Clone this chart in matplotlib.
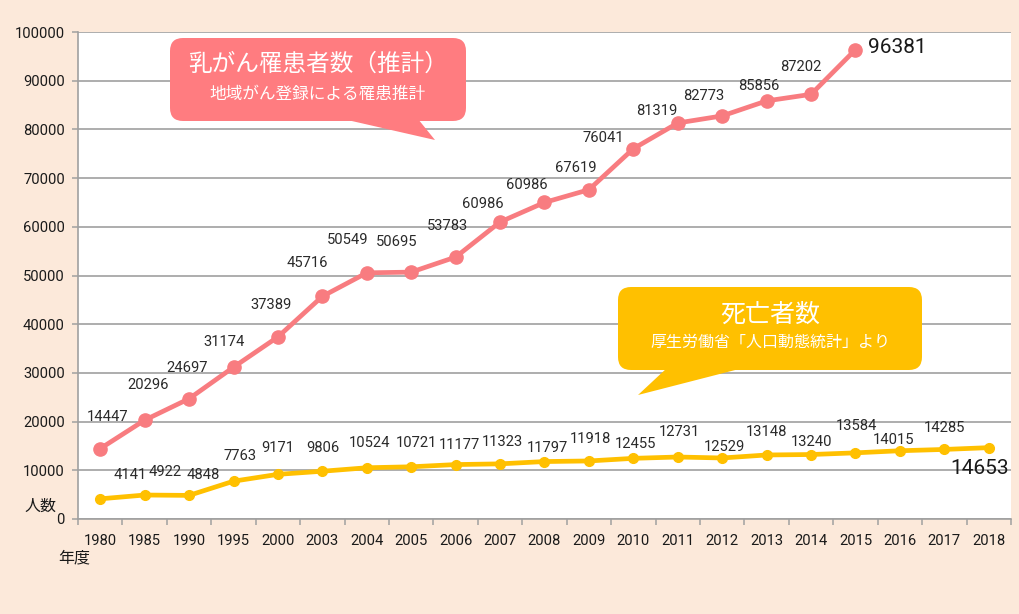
import matplotlib
matplotlib.use("Agg")
import matplotlib.pyplot as plt
from matplotlib.patches import FancyBboxPatch, Polygon
import numpy as np

# ---- data ----
years = ["1980", "1985", "1990", "1995", "2000", "2003", "2004", "2005", "2006", "2007",
         "2008", "2009", "2010", "2011", "2012", "2013", "2014", "2015", "2016", "2017", "2018"]
incidence = [14447, 20296, 24697, 31174, 37389, 45716, 50549, 50695, 53783, 60986,
             65000, 67619, 76041, 81319, 82773, 85856, 87202, 96381]
incidence_labels = ["14447", "20296", "24697", "31174", "37389", "45716", "50549", "50695",
                    "53783", "60986", "60986", "67619", "76041", "81319", "82773", "85856",
                    "87202", "96381"]
deaths = [4141, 4922, 4848, 7763, 9171, 9806, 10524, 10721, 11177, 11323, 11797, 11918,
          12455, 12731, 12529, 13148, 13240, 13584, 14015, 14285, 14653]
death_labels = [str(v) for v in deaths]

# label offsets in pixels (dx, dy; image-down positive)
inc_off = [(7, -32), (3, -35), (-2, -31), (-9, -25), (-7, -32), (-15, -33), (-19, -33),
           (-15, -30), (-8, -31), (-17, -18), (-18, -17), (-13, -22), (-30, -11),
           (-21, -12), (-18, -20), (-8, -15), (-10, -27), (42, -2)]
dth_off = [(30, -24), (20, -23), (14, -20), (7, -25), (0, -26), (1, -23), (3, -25), (5, -24),
           (4, -20), (2, -22), (3, -14), (2, -22), (2, -14), (2, -25), (2, -11), (0, -23),
           (0, -13), (1, -27), (-6, -11), (0, -21), (-9, 21)]

PINK = "#F87C80"
BOX_PINK = "#FF7C80"
YELLOW = "#FFC000"
BG = "#FCE9DA"
GRID = "#A0A0A0"
JP = "Noto Sans CJK JP"

plt.rcParams['font.family'] = ['Roboto', 'Noto Sans CJK JP', 'DejaVu Sans']

W, H = 1019, 614
fig = plt.figure(figsize=(W / 100, H / 100), dpi=100, facecolor=BG)
ax = fig.add_axes([78 / W, 1 - 519 / H, (1011 - 78) / W, (519 - 32) / H])
ax.set_facecolor("white")

x_all = np.arange(len(years))
x_inc = x_all[:len(incidence)]

ax.plot(x_inc, incidence, color=PINK, lw=3.4, marker="o", ms=9.5, zorder=4,
        solid_capstyle="round")
ax.plot(x_all, deaths, color=YELLOW, lw=3.4, marker="o", ms=7, zorder=4,
        solid_capstyle="round")

for i, (v, lab) in enumerate(zip(incidence, incidence_labels)):
    dx, dy = inc_off[i]
    big = (i == len(incidence) - 1)
    ax.annotate(lab, (x_inc[i], v), xytext=(dx, -dy), textcoords="offset pixels",
                ha="center", va="center", fontsize=15 if big else 10.6,
                color="#1a1a1a" if big else "#2a2a2a", zorder=5)

for i, (v, lab) in enumerate(zip(deaths, death_labels)):
    dx, dy = dth_off[i]
    big = (i == len(deaths) - 1)
    ax.annotate(lab, (x_all[i], v), xytext=(dx, -dy), textcoords="offset pixels",
                ha="center", va="center", fontsize=15 if big else 10.6,
                color="#1a1a1a" if big else "#2a2a2a", zorder=5)

ax.set_xlim(-0.5, len(years) - 0.5)
ax.set_ylim(0, 100000)
ax.set_yticks(np.arange(0, 100001, 10000))
ax.set_yticklabels([str(v) for v in range(0, 100001, 10000)])
ax.set_xticks(x_all)
ax.set_xticklabels(years)
ax.set_xticks(np.arange(-0.5, len(years), 1), minor=True)
ax.tick_params(axis="x", which="major", length=0, pad=11, labelsize=10.6, labelcolor="#1a1a1a")
ax.tick_params(axis="x", which="minor", length=4.5, width=1.1, color=GRID)
ax.tick_params(axis="y", which="major", length=4.5, width=1.1, color=GRID, pad=5,
               labelsize=10.6, labelcolor="#1a1a1a")
ax.grid(axis="y", color=GRID, lw=1.2, zorder=1)
ax.set_axisbelow(True)
for s in ["top", "right"]:
    ax.spines[s].set_visible(False)
for s in ["left", "bottom"]:
    ax.spines[s].set_color(GRID)
    ax.spines[s].set_linewidth(1.2)

# overlay in pixel coordinates for callouts and axis captions
ov = fig.add_axes([0, 0, 1, 1], facecolor="none")
ov.set_xlim(0, W)
ov.set_ylim(H, 0)
ov.axis("off")

def callout(x0, y0, x1, y1, tail, color):
    ov.add_patch(Polygon(tail, closed=True, facecolor=color, edgecolor="none", zorder=2))
    ov.add_patch(FancyBboxPatch((x0, y0), x1 - x0, y1 - y0,
                                boxstyle="round,pad=0,rounding_size=13",
                                facecolor=color, edgecolor="none", zorder=3))

callout(170, 38, 466, 121, [(343, 119), (418, 119), (435, 140)], BOX_PINK)
ov.text(318, 64, "乳がん罹患者数（推計）", family=JP, fontsize=17, color="white",
        ha="center", va="center", zorder=4)
ov.text(318, 94, "地域がん登録による罹患推計", family=JP, fontsize=12, color="white",
        ha="center", va="center", zorder=4)

callout(618, 287, 922, 370, [(667, 368), (743, 368), (638, 395)], YELLOW)
ov.text(770, 315, "死亡者数", family=JP, fontsize=18, color="white",
        ha="center", va="center", zorder=4)
ov.text(770, 342, "厚生労働省「人口動態統計」より", family=JP, fontsize=11.5, color="white",
        ha="center", va="center", zorder=4)

ov.text(40, 506, "人数", family=JP, fontsize=11.5, color="#1a1a1a", ha="center", va="center")
ov.text(74, 558, "年度", family=JP, fontsize=11.5, color="#1a1a1a", ha="center", va="center")

fig.savefig("out.png", dpi=100, facecolor=BG)
